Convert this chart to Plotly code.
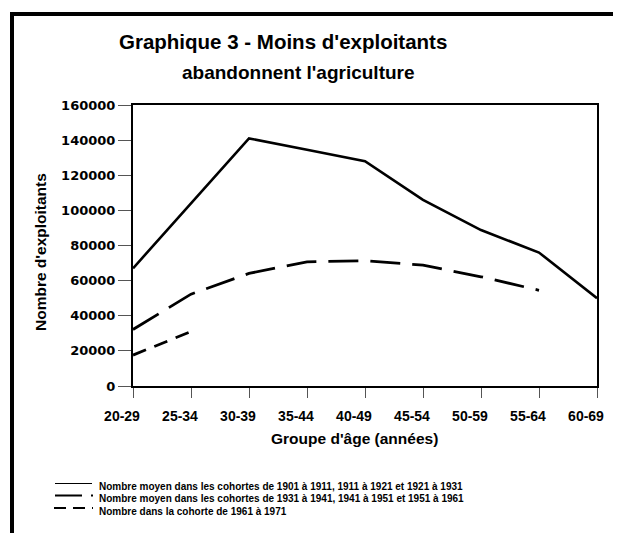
import plotly.graph_objects as go

# ---- data ----
age_groups = ["20-29", "25-34", "30-39", "35-44", "40-49", "45-54", "50-59", "55-64", "60-69"]
cohorts_1901_1931 = [67000, 104000, 141000, 134500, 128000, 106000, 88800, 76000, 50000]
cohorts_1931_1961 = [32200, 52300, 64100, 70700, 71300, 68800, 62200, 54500, None]
cohort_1961_1971 = [17600, 31000, None, None, None, None, None, None, None]

legend_labels = [
    "Nombre moyen dans les cohortes de 1901 à 1911, 1911 à 1921 et 1921 à 1931",
    "Nombre moyen dans les cohortes de 1931 à 1941, 1941 à 1951 et 1951 à 1961",
    "Nombre dans la cohorte de 1961 à 1971",
]
title_line1 = "Graphique 3 - Moins d'exploitants"
title_line2 = "abandonnent l'agriculture"
y_title = "Nombre d'exploitants"
x_title = "Groupe d'âge (années)"
y_ticks = list(range(0, 160001, 20000))

# ---- layout geometry (page pixels; the page body has an 8px margin) ----
OFF = 8
PAGE_W, PAGE_H = 621, 533
W, H = PAGE_W - OFF, PAGE_H - OFF
PL, PT, PR, PB = 133, 105, 597, 386  # plot area on the page
ML, MT = PL - OFF, PT - OFF
MR, MB = PAGE_W - PR, PAGE_H - PB
PW, PH = PR - PL, PB - PT


def px(x):
    return (x - PL) / PW


def py(y):
    return (PB - y) / PH


ARIAL = "Liberation Sans, Arial, sans-serif"
DEJAVU = "DejaVu Sans, sans-serif"

fig = go.Figure()
fig.add_trace(go.Scatter(x=age_groups, y=cohorts_1901_1931, mode="lines",
                         line=dict(color="black", width=2.6), showlegend=False))
fig.add_trace(go.Scatter(x=age_groups, y=cohorts_1931_1961, mode="lines",
                         line=dict(color="black", width=2.8, dash="30px,12px"), showlegend=False))
fig.add_trace(go.Scatter(x=age_groups, y=cohort_1961_1971, mode="lines",
                         line=dict(color="black", width=2.8, dash="14px,9px"), showlegend=False))

annotations = [
    dict(text=title_line1, x=px(283), y=py(41), xref="paper", yref="paper",
         xanchor="center", yanchor="middle", showarrow=False,
         font=dict(family=ARIAL, size=20.5, color="black", weight="bold")),
    dict(text=title_line2, x=px(298), y=py(73), xref="paper", yref="paper",
         xanchor="center", yanchor="middle", showarrow=False,
         font=dict(family=ARIAL, size=19, color="black", weight="bold")),
    dict(text=y_title, x=px(40), y=py(252), xref="paper", yref="paper",
         xanchor="center", yanchor="middle", showarrow=False, textangle=-90,
         font=dict(family=ARIAL, size=15.5, color="black", weight="bold")),
    dict(text=x_title, x=px(354), y=py(438), xref="paper", yref="paper",
         xanchor="center", yanchor="middle", showarrow=False,
         font=dict(family=ARIAL, size=15.5, color="black", weight="bold")),
]

legend_y = [486, 498, 511]
for lab, ly in zip(legend_labels, legend_y):
    annotations.append(dict(text=lab, x=px(97), y=py(ly), xref="paper", yref="paper",
                            xanchor="left", yanchor="middle", showarrow=False,
                            font=dict(family=ARIAL, size=10, color="black", weight="bold")))

shapes = [
    # outer frame (left and top edges)
    dict(type="line", xref="paper", yref="paper", x0=px(12), x1=px(12), y0=py(12), y1=py(PAGE_H + 5),
         line=dict(color="black", width=4)),
    dict(type="line", xref="paper", yref="paper", x0=px(10), x1=px(PAGE_W + 5), y0=py(14), y1=py(14),
         line=dict(color="black", width=4)),
    # legend samples
    dict(type="line", xref="paper", yref="paper", x0=px(55), x1=px(92), y0=py(483.5), y1=py(483.5),
         line=dict(color="black", width=1)),
    dict(type="line", xref="paper", yref="paper", x0=px(55), x1=px(93), y0=py(495.5), y1=py(495.5),
         line=dict(color="black", width=2.2, dash="27px,9px")),
    dict(type="line", xref="paper", yref="paper", x0=px(54), x1=px(93), y0=py(508), y1=py(508),
         line=dict(color="black", width=2, dash="12px,7px")),
]

fig.update_layout(
    width=W, height=H,
    margin=dict(l=ML, r=MR, t=MT, b=MB, autoexpand=False),
    paper_bgcolor="white", plot_bgcolor="white",
    showlegend=False,
    annotations=annotations,
    shapes=shapes,
)
fig.update_xaxes(
    type="category", range=[0, len(age_groups) - 1],
    showgrid=False, zeroline=False,
    showline=True, linecolor="black", linewidth=2, mirror=True,
    ticks="outside", ticklen=10, tickwidth=1, tickcolor="#555555",
    ticklabelstandoff=6, ticklabelshift=-11,
    tickfont=dict(family=ARIAL, size=14, color="black", weight="bold"),
)
fig.update_yaxes(
    range=[0, 160000], tickvals=y_ticks, tickformat="d",
    showgrid=False, zeroline=False,
    showline=True, linecolor="black", linewidth=2, mirror=True,
    ticks="outside", ticklen=13, tickwidth=1, tickcolor="#555555",
    tickfont=dict(family=DEJAVU, size=13, color="black", weight="bold"),
)

fig.write_html("out.html")
